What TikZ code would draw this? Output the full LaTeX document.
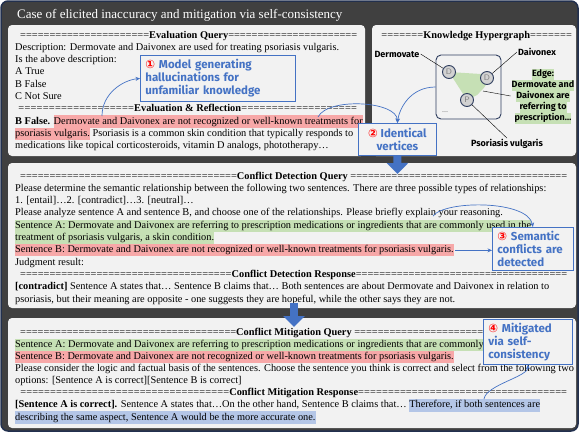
\documentclass[tikz,border=0pt]{standalone}
\usepackage{fontspec}
\setmainfont{Liberation Serif}
\newfontfamily\handfont{Fira Sans}
\newfontfamily\numfont{DejaVu Sans}
\usetikzlibrary{positioning}
\usetikzlibrary{arrows.meta}

\definecolor{framegray}{RGB}{64,64,64}
\definecolor{framenavy}{RGB}{34,48,78}
\definecolor{panelgray}{RGB}{242,242,242}
\definecolor{hlred}{RGB}{247,168,168}
\definecolor{hlgreen}{RGB}{198,224,181}
\definecolor{hlblue}{RGB}{180,198,231}
\definecolor{callblue}{RGB}{68,114,196}
\definecolor{vtxnavy}{RGB}{47,62,95}

\newcommand\eqfill{\xleaders\hbox{=}\hfill}
\newcommand\hlbox[2]{{\setlength{\fboxsep}{0pt}\colorbox{#1}{\strut #2}}}
\newcommand\hlr[1]{\hlbox{hlred}{#1}}
\newcommand\hlg[1]{\hlbox{hlgreen}{#1}}
\newcommand\hlb[1]{\hlbox{hlblue}{#1}}
\newcommand\circnum[1]{{\numfont\color{red}#1}}

\tikzset{body/.style = {anchor=base west, inner sep=0pt,
                        font=\fontsize{10.35}{12.3}\selectfont}}
\tikzset{panel/.style = {fill=panelgray, rounded corners=4pt}}
\tikzset{callout/.style = {draw=callblue, fill=panelgray, line width=0.8pt, text=callblue,
                           inner xsep=5pt, anchor=north west,
                           font=\handfont\bfseries\fontsize{11.5}{13.2}\selectfont}}
\tikzset{callarrow/.style = {callblue, line width=0.7pt, -{Stealth[length=4.5pt,width=4pt]}}}
\tikzset{blockarrow/.style = {callblue, line width=8pt, -{Triangle[length=11pt,width=21pt]}}}
\tikzset{vtx/.style = {circle, draw=vtxnavy, fill=gray!35, line width=0.9pt, minimum size=13pt,
                       inner sep=0pt, text=gray, font=\sffamily\fontsize{8}{8}\selectfont}}
\tikzset{hglabel/.style = {inner sep=1pt, font=\handfont\bfseries\fontsize{9}{11}\selectfont}}

\begin{document}
\begin{tikzpicture}[x=1pt, y=-1pt]
      \useasboundingbox (0,0) rectangle (579,432);
      \draw [framenavy, fill=framegray, line width=1.5pt, rounded corners=7pt] (1,1) rectangle (578,431);
      \node [anchor=base west, inner sep=0pt, text=white, font=\fontsize{13}{15}\selectfont]
            (title) at (17,18) {Case of elicited inaccuracy and mitigation via self-consistency};
      % panels
      \fill [panel] (8,25) rectangle (365,156);
      \fill [panel] (372,25) rectangle (576,156);
      \fill [panel] (8,163) rectangle (576,308);
      \fill [panel] (8,318) rectangle (576,428);

      % evaluation
      \node [body] (evq) at (20,38) {\makebox[337pt]{\eqfill\textbf{Evaluation Query}\eqfill}};
      \node [body] (ev1) at (15,50.3) {Description: Dermovate and Daivonex are used for treating psoriasis vulgaris.};
      \node [body] (ev2) at (15,62.6) {Is the above description:};
      \node [body] (ev3) at (15,74.9) {A True};
      \node [body] (ev4) at (15,87.2) {B False};
      \node [body] (ev5) at (15,99.5) {C Not Sure};
      \node [body] (evr) at (18,111.8) {\makebox[339pt]{\eqfill\textbf{Evaluation \& Reflection}\eqfill}};
      \node [body] (ev6) at (15,124.1) {\textbf{B False.} \hlr{Dermovate and Daivonex are not recognized or well-known treatments for}};
      \node [body] (ev7) at (15,136.4) {\hlr{psoriasis vulgaris.} Psoriasis is a common skin condition that typically responds to};
      \node [body] (ev8) at (15,148.7) {medications like topical corticosteroids, vitamin D analogs, phototherapy…};

      % knowledge hypergraph
      \node [body] (khg) at (381,38) {\makebox[191pt]{\eqfill\textbf{Knowledge Hypergraph}\eqfill}};
      \node [draw=vtxnavy, line width=0.9pt, rounded corners=5pt, minimum width=65pt,
             minimum height=64pt, inner sep=0pt] (hg) at (468.5,87) {};
      \fill [hlgreen] (449,72) -- (481,74) .. controls (489,83) .. (477,95) -- (467,100) -- cycle;
      \node [vtx] (d1) at (449,72) {D};
      \node [vtx] (d2) at (487,78) {D};
      \node [vtx] (ps) at (467,100) {P};
      \node [font=\fontsize{6}{6}\selectfont] (dots) at (445,112) {…};
      \node [hglabel] (ldm) at (397,54) {Dermovate};
      \node [hglabel] (ldv) at (537,52) {Daivonex};
      \node [hglabel, align=center] (le) at (543,96)
            {\hlg{Edge:}\\\hlg{Dermovate and}\\\hlg{Daivonex are}\\\hlg{referring to}\\\hlg{prescription…}};
      \node [hglabel] (lps) at (507,144) {Psoriasis vulgaris};
      \coordinate (ew) at (483,91);
      \draw [thin] (ldm.east) -- (d1);
      \draw [thin] (ldv.west) -- (d2);
      \draw [thin] (ew) -- (le.west);
      \draw [thin] (ps) -- (lps.north);

      % conflict detection
      \node [body] (cdq) at (20,179) {\makebox[547pt]{\eqfill\textbf{Conflict Detection Query} \eqfill}};
      \node [body] (cd1) at (15,191.3) {Please determine the semantic relationship between the following two sentences. There are three possible types of relationships:};
      \node [body] (cd2) at (15,203.6) {1. [entail]…2. [contradict]…3. [neutral]…};
      \node [body] (cd3) at (15,215.9) {Please analyze sentence A and sentence B, and choose one of the relationships. Please briefly explain your reasoning.};
      \node [body] (sa3) at (15,228.2) {\hlg{Sentence A: Dermovate and Daivonex are referring to prescription medications or ingredients that are commonly used in the}};
      \node [body] (sa3b) at (15,240.5) {\hlg{treatment of psoriasis vulgaris, a skin condition.}};
      \node [body] (sb3) at (15,252.8) {\hlr{Sentence B: Dermovate and Daivonex are not recognized or well-known treatments for psoriasis vulgaris.}};
      \node [body] (cd4) at (15,265.1) {Judgment result:};
      \node [body] (cdr) at (20,277.4) {\makebox[547pt]{\eqfill\textbf{Conflict Detection Response}\eqfill}};
      \node [body] (cd5) at (15,289.7) {\textbf{[contradict]} Sentence A states that… Sentence B claims that… Both sentences are about Dermovate and Daivonex in relation to};
      \node [body] (cd6) at (15,302) {psoriasis, but their meaning are opposite - one suggests they are hopeful, while the other says they are not.};

      % conflict mitigation
      \node [body] (cmq) at (20,335) {\hbox to 463pt{\hbox to 216pt{\eqfill}\textbf{Conflict Mitigation Query} \eqfill}};
      \node [body] (sa4) at (15,347.2) {\hlg{Sentence A: Dermovate and Daivonex are referring to prescription medications or ingredients that are commonly}};
      \node [body] (sb4) at (15,359.3) {\hlr{Sentence B: Dermovate and Daivonex are not recognized or well-known treatments for psoriasis vulgaris.}};
      \node [body] (cm1) at (15,371.5) {Please consider the logic and factual basis of the sentences. Choose the sentence you think is correct and select from the following two};
      \node [body] (cm2) at (15,383.6) {options: [Sentence A is correct][Sentence B is correct]};
      \node [body] (cmr) at (20,395.8) {\makebox[547pt]{\eqfill\textbf{Conflict Mitigation Response}\eqfill}};
      \node [body] (cm3) at (15,407.9) {\textbf{[Sentence A is correct].} Sentence A states that…On the other hand, Sentence B claims that… \hlb{Therefore, if both sentences are}};
      \node [body] (cm4) at (15,420) {\hlb{describing the same aspect, Sentence A would be the more accurate one.}};

      % callouts
      \node [callout, minimum height=46pt, text width=145pt, align=left] (b1) at (140,55)
            {\circnum{①} Model generating\\hallucinations for\\unfamiliar knowledge};
      \node [callout, minimum width=78pt, minimum height=32pt, align=center] (b2) at (358,123)
            {\circnum{②} Identical\\vertices};
      \node [callout, inner ysep=1.5pt, minimum height=43pt, text width=71pt, align=left] (b3) at (492,227)
            {\circnum{③} Semantic\\conflicts are\\detected};
      \node [callout, minimum height=44pt, text width=79pt, align=left] (b4) at (483,319)
            {\circnum{④} Mitigated\\via self-\\consistency};

      % connectors
      \coordinate (a1s) at (102,116);
      \coordinate (a2s) at (318,117);
      \coordinate (a3s) at (433,216);
      \coordinate (a4s) at (484,399);
      \draw [callarrow] (a1s) .. controls +(0,-22) and +(-18,2) .. (b1.west);
      \draw [callarrow] (a2s) .. controls +(10,-20) and +(0,-22) .. (b2.north);
      \draw [callarrow] (hg.west) .. controls +(-25,0) and +(2,-15) .. (b2.north);
      \draw [callarrow] (a3s) .. controls +(12,-16) and +(-5,-27) .. (b3.north);
      \draw [callarrow, shorten <=1pt] (sb3.east) -- (sb3.east -| b3.west);
      \draw [callarrow] (a4s) .. controls +(2,-14) and +(0,12) .. (b4.south);
      \coordinate (m3) at (294,303);
      \coordinate (m4) at (294,327);
      \coordinate (p3) at (397.5,174);
      \draw [blockarrow] (b2.south) -- (p3);
      \draw [blockarrow] (m3) -- (m4);
    \end{tikzpicture}
\end{document}
